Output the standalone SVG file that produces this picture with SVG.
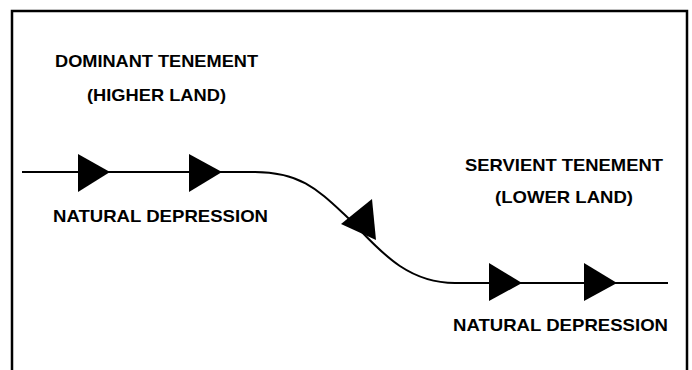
<svg xmlns="http://www.w3.org/2000/svg" width="692" height="370" viewBox="0 0 692 370">
<style>
.t{font-family:"Liberation Sans",Arial,sans-serif;font-weight:bold;font-size:17px;fill:#000}
.ln{fill:none;stroke:#000;stroke-width:2}
.ah{fill:#000}
</style>
<rect width="692" height="370" fill="#fff"/>
<path d="M12,370 V11 H687 V370" fill="none" stroke="#000" stroke-width="2.5"/>
<g id="connectors">
<path class="ln" d="M22,172 H255 C300,172 318,190 345,215 S400,283 455,283 H668"/>
<polygon class="ah" points="78,154 78,192 110,172"/>
<polygon class="ah" points="189,154 189,192 222,172"/>
<polygon class="ah" points="341,224 372,199 376,240"/>
<polygon class="ah" points="489,263 489,301 522,283"/>
<polygon class="ah" points="584,263 584,301 617,283"/>
</g>
<g id="dominant">
<text class="t" x="55" y="67" textLength="203" lengthAdjust="spacingAndGlyphs">DOMINANT TENEMENT</text>
<text class="t" x="87" y="101" textLength="139" lengthAdjust="spacingAndGlyphs">(HIGHER LAND)</text>
</g>
<g id="depression-left">
<text class="t" x="53" y="222" textLength="215" lengthAdjust="spacingAndGlyphs">NATURAL DEPRESSION</text>
</g>
<g id="servient">
<text class="t" x="465" y="171" textLength="198" lengthAdjust="spacingAndGlyphs">SERVIENT TENEMENT</text>
<text class="t" x="495" y="203" textLength="138" lengthAdjust="spacingAndGlyphs">(LOWER LAND)</text>
</g>
<g id="depression-right">
<text class="t" x="453" y="331" textLength="215" lengthAdjust="spacingAndGlyphs">NATURAL DEPRESSION</text>
</g>
</svg>
